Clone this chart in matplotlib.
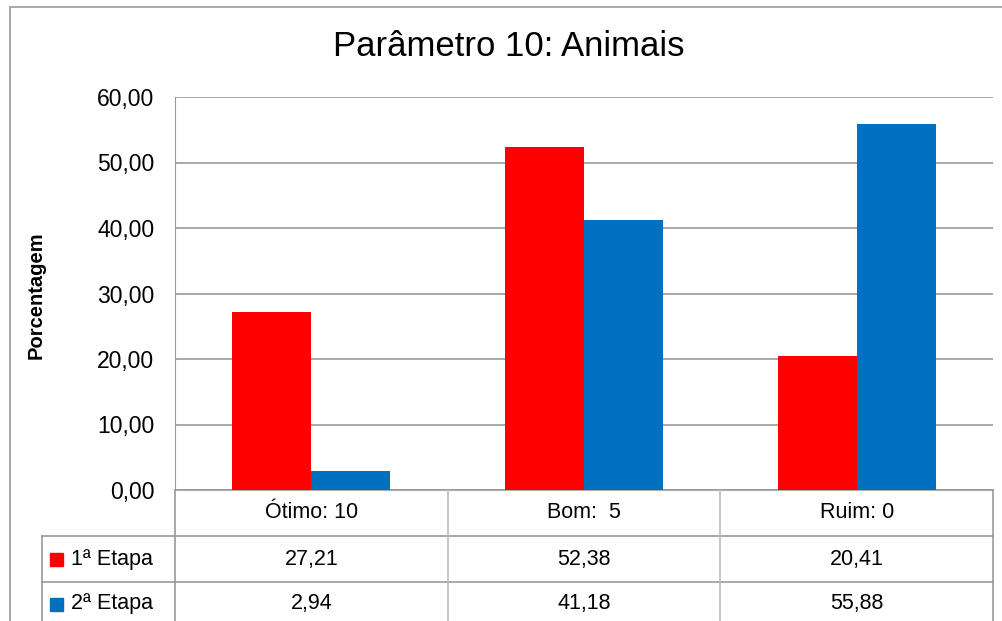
import matplotlib
matplotlib.use('Agg')
import matplotlib.pyplot as plt
from matplotlib.lines import Line2D
from matplotlib.patches import Rectangle
import numpy as np

categories = ['Ótimo: 10', 'Bom:  5', 'Ruim: 0']
series_names = ['1ª Etapa', '2ª Etapa']
etapa1 = [27.21, 52.38, 20.41]
etapa2 = [2.94, 41.18, 55.88]
colors = ['#ff0000', '#0070c0']
yticks = [0, 10, 20, 30, 40, 50, 60]

plt.rcParams['font.family'] = ['Liberation Sans', 'DejaVu Sans']

W, H = 1002, 621
fig = plt.figure(figsize=(W / 100, H / 100), dpi=100)

# plot area in pixels
L, R, T, B = 175, 993, 97, 490
ax = fig.add_axes([L / W, 1 - B / H, (R - L) / W, (B - T) / H])

x = np.arange(len(categories))
bw = 0.29
ax.bar(x - bw / 2, etapa1, bw, color=colors[0], zorder=3)
ax.bar(x + bw / 2, etapa2, bw, color=colors[1], zorder=3)

def fmt(v):
    return ('%.2f' % v).replace('.', ',')

ax.set_xlim(-0.5, len(categories) - 0.5)
ax.set_ylim(0, 60)
ax.set_yticks(yticks)
ax.set_yticklabels([fmt(v) for v in yticks], fontsize=16.5)
ax.tick_params(axis='y', length=0, pad=15)
ax.set_xticks([])
ax.grid(axis='y', color='#999999', linewidth=1.2, zorder=0)
for s in ['top', 'right', 'bottom']:
    ax.spines[s].set_visible(False)
ax.spines['left'].set_color('#999999')

# data table under the axes
ph = B - T
def ay(py):
    return (B - py) / ph

def fx(px):
    return px / W

def fy(py):
    return 1 - py / H

tl = ax.get_xaxis_transform()
line_kw = dict(color='#999999', linewidth=1.2, clip_on=False)
for py in [490, 536, 582]:
    ax.add_line(Line2D([-0.5, 2.5], [ay(py)] * 2, transform=tl, **line_kw))
for py in [536, 582]:
    fig.add_artist(Line2D([fx(42), fx(L)], [fy(py)] * 2, color='#999999', linewidth=1.2))
fig.add_artist(Line2D([fx(42), fx(42)], [fy(536), fy(640)], color='#999999', linewidth=1.2))
for xv in [-0.5, 0.5, 1.5, 2.5]:
    ax.add_line(Line2D([xv, xv], [ay(490), ay(640)], transform=tl,
                       color='#bbbbbb' if xv in (0.5, 1.5) else '#999999',
                       linewidth=1.2, clip_on=False))

for i, c in enumerate(categories):
    ax.text(i, ay(513), c, transform=tl, ha='center', va='center', fontsize=15.5)
    ax.text(i, ay(559), fmt(etapa1[i]), transform=tl, ha='center', va='center', fontsize=15.5)
    ax.text(i, ay(604), fmt(etapa2[i]), transform=tl, ha='center', va='center', fontsize=15.5)

for k, (name, col) in enumerate(zip(series_names, colors)):
    cy = 559 + 45 * k
    fig.add_artist(Rectangle((fx(50), fy(cy + 7)), 13 / W, 13 / H, color=col))
    fig.text(fx(71), fy(cy), name, ha='left', va='center', fontsize=15.5)

fig.text(fx(509), fy(47), 'Parâmetro 10: Animais', ha='center', va='center', fontsize=25)
fig.text(fx(36), fy(295), 'Porcentagem', ha='center', va='center', rotation=90,
         fontsize=14.5, fontweight='bold')

# outer chart border
fig.add_artist(Rectangle((fx(10), fy(640)), (1020 - 10) / W, (640 - 7) / H,
                         fill=False, edgecolor='#999999', linewidth=1.2))

fig.savefig('out.png', dpi=100)
